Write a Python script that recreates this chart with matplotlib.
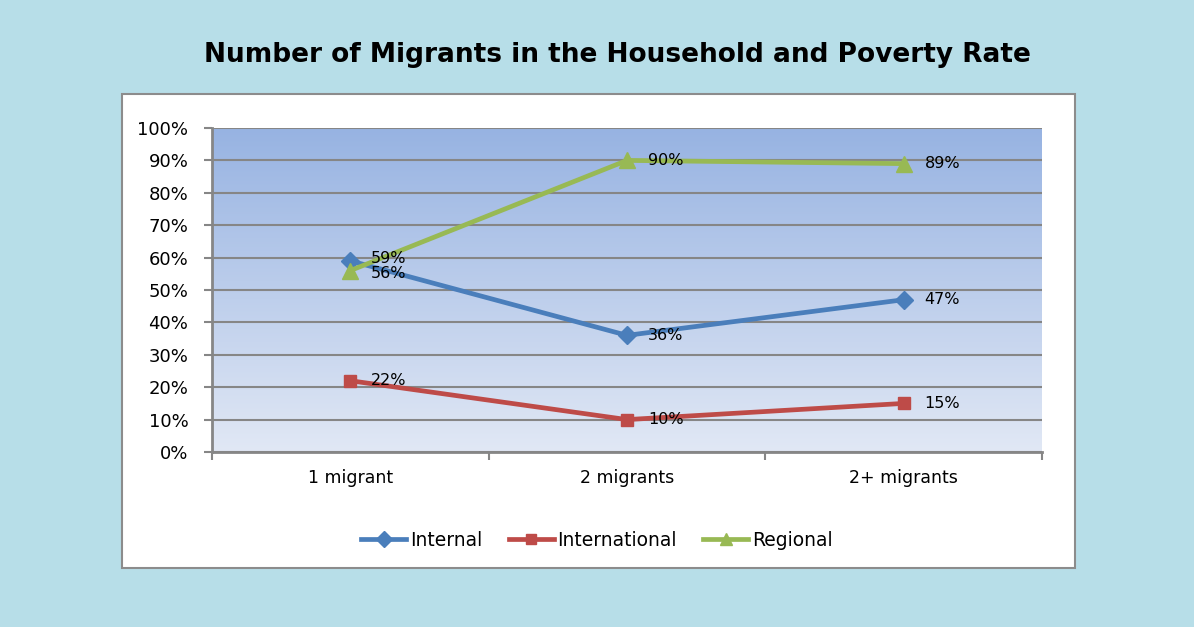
import numpy as np
import matplotlib.pyplot as plt
from matplotlib.patches import Rectangle
from matplotlib.ticker import FuncFormatter, FixedLocator
from matplotlib.colors import LinearSegmentedColormap

categories = ["1 migrant", "2 migrants", "2+ migrants"]
internal = [0.59, 0.36, 0.47]
international = [0.22, 0.10, 0.15]
regional = [0.56, 0.90, 0.89]

series = [
    ("Internal", internal, "#4A7EBB", "D", 9, 2),
    ("International", international, "#BE4B48", "s", 9, 0),
    ("Regional", regional, "#98B954", "^", 11, -2),
]

fig = plt.figure(figsize=(11.94, 6.27), dpi=100, facecolor="#B7DEE8")

# white chart panel
fig.patches.append(Rectangle((122 / 1194, 1 - 568 / 627), (1075 - 122) / 1194, (568 - 94) / 627,
                             transform=fig.transFigure, facecolor="white",
                             edgecolor="#8C8C8C", linewidth=1.5, zorder=-10))

fig.text(617 / 1194, 1 - 55 / 627, "Number of Migrants in the Household and Poverty Rate",
         ha="center", va="center", fontsize=19, fontweight="bold", color="black")

ax = fig.add_axes([212 / 1194, 1 - 452 / 627, (1042 - 212) / 1194, (452 - 128) / 627])
ax.set_facecolor("none")

# gradient background
grad = np.linspace(0, 1, 256).reshape(-1, 1)
cmap = LinearSegmentedColormap.from_list("bg", ["#E1E8F5", "#97B3E2"])
ax.imshow(grad, extent=(-0.5, 2.5, 0, 1), origin="lower", aspect="auto", cmap=cmap, zorder=0)

x = np.arange(len(categories))
for name, vals, color, marker, ms, dy in series:
    ax.plot(x, vals, color=color, linewidth=3.4, marker=marker, markersize=ms,
            label=name, zorder=3)
    for i, (xi, v) in enumerate(zip(x, vals)):
        off = dy if i == 0 else 0
        ax.annotate(f"{round(v * 100)}%", (xi, v), xytext=(15, off), textcoords="offset points",
                    ha="left", va="center", fontsize=11.5, color="black", zorder=4)

ax.set_xlim(-0.5, 2.5)
ax.set_ylim(0, 1)
ax.set_yticks(np.arange(0, 1.01, 0.1))
ax.yaxis.set_major_formatter(FuncFormatter(lambda v, p: f"{round(v * 100)}%"))
ax.yaxis.grid(True, color="#868686", linewidth=1.5, zorder=1)
ax.set_axisbelow(False)

ax.set_xticks(x)
ax.set_xticklabels(categories)
ax.xaxis.set_minor_locator(FixedLocator([-0.5, 0.5, 1.5, 2.5]))
ax.tick_params(axis="x", which="major", length=0, pad=12, labelsize=12.5)
ax.tick_params(axis="x", which="minor", length=6, width=1.5, color="#868686")
ax.tick_params(axis="y", length=6, width=1.5, color="#868686", labelsize=13, pad=11)

for side in ["top", "right"]:
    ax.spines[side].set_visible(False)
for side in ["left", "bottom"]:
    ax.spines[side].set_color("#868686")
    ax.spines[side].set_linewidth(2)

fig.legend(loc="center", bbox_to_anchor=(597 / 1194, 1 - 540 / 627), ncol=3, frameon=False,
           fontsize=13.5, handlelength=2.4, handletextpad=0.2, columnspacing=1.4, numpoints=1,
           markerscale=0.85)

fig.savefig("out.png", dpi=100, facecolor=fig.get_facecolor())
